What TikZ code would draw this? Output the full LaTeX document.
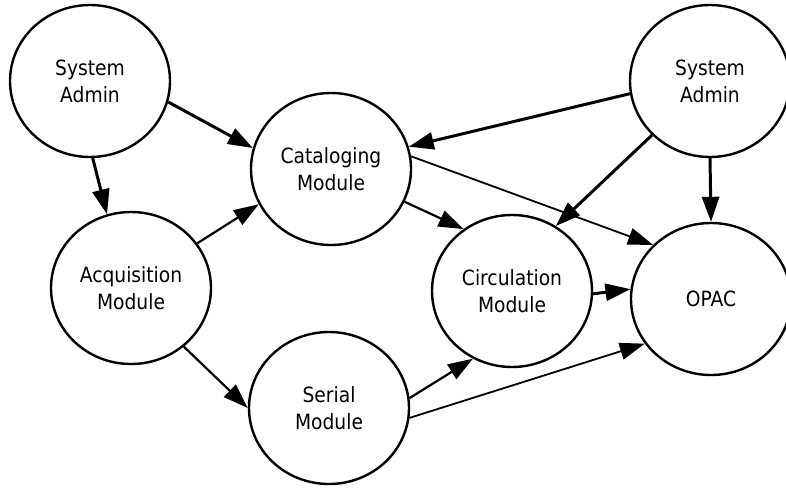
\documentclass[tikz,border=0pt]{standalone}
\usepackage{fontspec}
\setmainfont{DejaVu Sans}[FakeStretch=0.89]
\usetikzlibrary{arrows.meta,shapes.geometric}
\tikzset{
  module/.style={ellipse, draw=black, line width=2.4pt, fill=white,
    minimum width=160pt, minimum height=152pt, inner sep=0pt,
    align=center, font=\fontsize{21}{27}\selectfont},
  flow/.style={-{Triangle[length=25pt,width=17pt]}, line width=2.2pt},
  heavy/.style={flow, line width=3pt},
  light/.style={flow, line width=1.8pt},
}
\begin{document}
\begin{tikzpicture}[x=1pt, y=-1pt]
  \useasboundingbox (0,0) rectangle (786,490);
  % modules
  \node[module] (sa1)  at (90,81)   {System\\Admin};
  \node[module] (cat)  at (331,169) {Cataloging\\Module};
  \node[module] (acq)  at (131,288) {Acquisition\\Module};
  \node[module] (ser)  at (329,408) {Serial\\Module};
  \node[module] (circ) at (512,291) {Circulation\\Module};
  \node[module] (opac) at (711,299) {OPAC};
  \node[module] (sa2)  at (710,81)  {System\\Admin};
  % administrative links
  \draw[heavy] (sa1.-15)   -- (cat.165);
  \draw[heavy] (sa1.-88)   -- (acq.108);
  \draw[heavy] (sa2.-171)  -- (cat.16);
  \draw[heavy] (sa2.-137)  -- (circ.56);
  \draw[heavy] (sa2.-90)   -- (opac.90);
  % module data flow
  \draw[flow]  (acq.34)    -- (cat.-154);
  \draw[flow]  (acq.-48)   -- (ser.180);
  \draw[flow]  (cat.-24)   -- (circ.128);
  \draw[light] (cat.9)     -- (opac.137);
  \draw[heavy] (circ.-2)   -- (opac.173);
  \draw[flow]  (ser.7)     -- (circ.-120);
  \draw[light] (ser.-7)    -- (opac.-146);
\end{tikzpicture}
\end{document}
